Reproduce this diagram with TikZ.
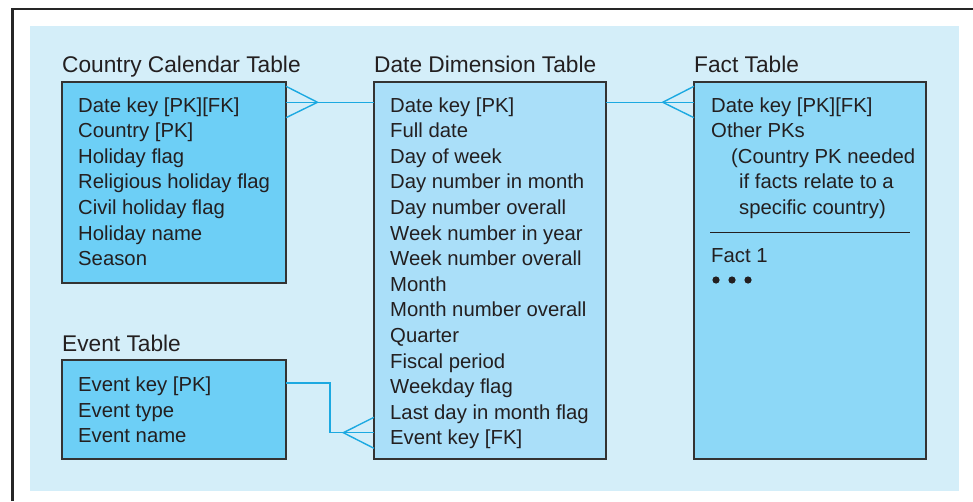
\documentclass[tikz,border=0pt]{standalone}
\usepackage{fontspec}
\setmainfont{Liberation Sans}
\usetikzlibrary{calc}
\definecolor{bgblue}{HTML}{D4EEF9}
\definecolor{boxdark}{HTML}{6DCFF6}
\definecolor{boxlight}{HTML}{AADFF9}
\definecolor{boxmid}{HTML}{8DD8F7}
\definecolor{linkblue}{HTML}{1CA9E1}
\definecolor{ink}{HTML}{231F20}
\definecolor{edge}{HTML}{333333}
\tikzset{
  tbl/.style={draw=edge, line width=1.4pt, anchor=north west, inner sep=0pt, outer sep=0pt},
  ttl/.style={anchor=base west, inner sep=0pt, text=ink, font=\fontsize{22.7}{26}\selectfont},
  itm/.style={anchor=base west, inner sep=0pt, text=ink, font=\fontsize{20.3}{25.6}\selectfont},
  conn/.style={draw=linkblue, line width=1.4pt},
  frameline/.style={draw=black!85, line width=2.6pt}
}
\begin{document}
\begin{tikzpicture}[x=1pt,y=-1pt]
\useasboundingbox (0,0) rectangle (973,501);
\fill[bgblue] (30,26) rectangle (959,491);
\draw[frameline] (12.5,501) -- (12.5,9) -- (973,9);

% boxes
\node[tbl, fill=boxdark, minimum width=224pt, minimum height=201pt] (cc) at (62,82) {};
\node[tbl, fill=boxlight, minimum width=232pt, minimum height=377pt] (dd) at (374,82) {};
\node[tbl, fill=boxmid, minimum width=232pt, minimum height=377pt] (ft) at (694,82) {};
\node[tbl, fill=boxdark, minimum width=224pt, minimum height=99pt] (ev) at (62,360) {};

% titles
\node[ttl] (cct) at (62,72.7) {Country Calendar Table};
\node[ttl] (ddt) at (374,72.7) {Date Dimension Table};
\node[ttl] (ftt) at (694,72.7) {Fact Table};
\node[ttl] (evt) at (62,351.7) {Event Table};

% country calendar items
\foreach \t [count=\i from 0] in {Date key [PK][FK],Country [PK],Holiday flag,Religious holiday flag,Civil holiday flag,Holiday name,Season}
  \node[itm] (cc\i) at (78,112+25.6*\i) {\t};

% date dimension items
\foreach \t [count=\i from 0] in {Date key [PK],Full date,Day of week,Day number in month,Day number overall,Week number in year,Week number overall,Month,Month number overall,Quarter,Fiscal period,Weekday flag,Last day in month flag,Event key [FK]}
  \node[itm] (dd\i) at (390,112+25.6*\i) {\t};

% event items
\foreach \t [count=\i from 0] in {Event key [PK],Event type,Event name}
  \node[itm] (ev\i) at (78,391.5+25.6*\i) {\t};

% fact items
\node[itm] (ft0) at (711,112) {Date key [PK][FK]};
\node[itm] (ft1) at (711,137.6) {Other PKs};
\node[itm] (ft2) at (731,163.2) {(Country PK needed};
\node[itm] (ft3) at (739,188.8) {if facts relate to a};
\node[itm] (ft4) at (739,214.4) {specific country)};
\coordinate (sepL) at (710,232);
\coordinate (sepR) at (910,232);
\draw[draw=ink, line width=1pt] (sepL) -- (sepR);
\node[itm] (ft5) at (711,262) {Fact 1};
\foreach \x [count=\i] in {716,732,748}
  \fill[ink] (\x,280) circle (3.6pt) coordinate (dot\i);

% connector country -- date
\coordinate (cfA) at (317.5,102.3);
\draw[conn] (cc.north east |- cfA) -- (dd.north west |- cfA);
\draw[conn] ($(cc.north east)+(0,4.3)$) -- (cfA) -- ($(cc.north east)+(0,35.7)$);

% connector date -- fact
\coordinate (cfB) at (662.7,102.3);
\draw[conn] (dd.north east |- cfB) -- (ft.north west |- cfB);
\draw[conn] ($(ft.north west)+(0,4.3)$) -- (cfB) -- ($(ft.north west)+(0,35.7)$);

% connector event -- date
\coordinate (elb1) at (330,383);
\coordinate (elb2) at (330,432.7);
\coordinate (cfC) at (343.3,432.7);
\draw[conn] (ev.north east |- elb1) -- (elb1) -- (elb2) -- (dd.north west |- elb2);
\draw[conn] (dd.north west |- 0,417.3) -- (cfC) -- (dd.north west |- 0,448.3);
\end{tikzpicture}
\end{document}
